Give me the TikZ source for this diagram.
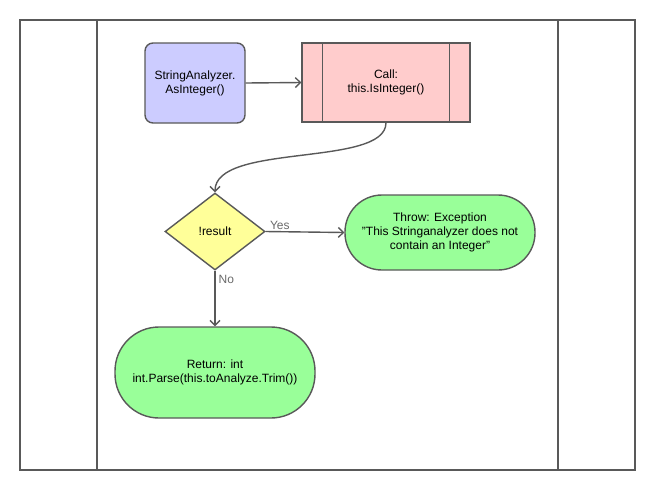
\documentclass[tikz,border=0pt]{standalone}
\usepackage{fontspec}
\setmainfont{Liberation Sans}
\usetikzlibrary{arrows.meta,shapes.geometric,shapes.multipart}
\definecolor{linec}{HTML}{595959}
\definecolor{startc}{HTML}{CCCCFF}
\definecolor{callc}{HTML}{FFCCCC}
\definecolor{decc}{HTML}{FFFF99}
\definecolor{termc}{HTML}{99FF99}
\newcommand{\sq}{\char34\relax}
\tikzset{
  base/.style={draw=linec, line width=1.4pt, align=center, font=\fontsize{12}{14}\selectfont, inner sep=0pt},
  startbox/.style={base, fill=startc, rounded corners=8pt, minimum width=100pt, minimum height=80pt},
  callbox/.style={base, fill=callc, minimum width=168pt, minimum height=79pt},
  decbox/.style={base, fill=decc, diamond, minimum width=100pt, minimum height=77pt, aspect=1.3},
  termbox/.style={base, fill=termc, rounded corners=36pt},
  conn/.style={draw=linec, line width=1.4pt, -{Straight Barb[length=5pt,width=10pt]}},
  lbl/.style={font=\fontsize{12}{14}\selectfont, text=linec!90!white, inner sep=1pt},
  frame/.style={draw=linec, line width=1.4pt}
}
\begin{document}
\begin{tikzpicture}[x=1pt,y=-1pt]
\useasboundingbox (0,0) rectangle (655,491);
\draw[frame] (20,20) rectangle (635,470);
\draw[frame] (97,20) -- (97,470);
\draw[frame] (558,20) -- (558,470);
\node[startbox] (start) at (195,83) {StringAnalyzer.\\AsInteger()};
\node[callbox] (call) at (386,82.5) {Call:\\this.IsInteger()};
\draw[draw=linec, line width=1.4pt] ([xshift=21pt]call.north west) -- ([xshift=21pt]call.south west);
\draw[draw=linec, line width=1.4pt] ([xshift=-21pt]call.north east) -- ([xshift=-21pt]call.south east);
\node[decbox, minimum width=100pt, minimum height=77pt, shape aspect=1.3] (dec) at (215,231.5) {!result};
\node[termbox, minimum width=190pt, minimum height=75pt, rounded corners=37pt] (throw) at (440,232.5) {Throw: Exception\\\sq This Stringanalyzer does not\\contain an Integer\sq};
\node[termbox, minimum width=200pt, minimum height=91pt, rounded corners=44pt] (ret) at (215,372.5) {Return: int\\int.Parse(this.toAnalyze.Trim())};
\draw[conn] (start.east) -- (call.west);
\draw[conn] (call.south) .. controls ++(0,45) and ++(0,-50) .. (dec.north);
\draw[conn] (dec.east) -- node[lbl, pos=0.18, above] {Yes} (throw.west);
\draw[conn] (dec.south) -- node[lbl, pos=0.15, right, xshift=2pt] {No} (ret.north);
\end{tikzpicture}
\end{document}
